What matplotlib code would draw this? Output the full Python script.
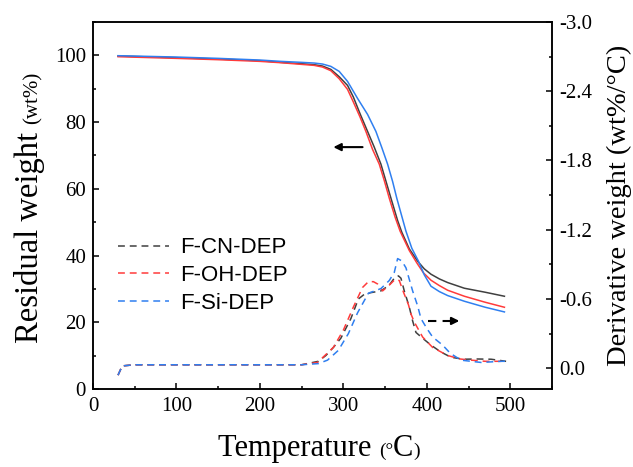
import numpy as np
import matplotlib
matplotlib.use("Agg")
import matplotlib.pyplot as plt
from matplotlib.ticker import MultipleLocator, FuncFormatter

plt.rcParams["axes.unicode_minus"] = False

# TGA (residual weight, %)
t_cn = [30, 100, 150, 200, 225, 250, 265, 275, 285, 295, 305, 312, 320, 329, 337, 345, 351, 357,
        365, 370, 379, 389, 397, 405, 415, 425, 445, 470, 493]
w_cn = [99.8, 99.3, 98.9, 98.4, 97.9, 97.5, 97.2, 96.8, 95.8, 93.6, 91.0, 87.5, 82.5, 77.2, 72.5,
        67.4, 62.3, 57.2, 50.5, 47.0, 42.0, 38.3, 36.0, 34.4, 33.0, 31.9, 30.2, 29.0, 27.8]

t_oh = [30, 100, 150, 200, 225, 250, 265, 275, 285, 295, 305, 312, 320, 327, 335, 343, 349, 355,
        362, 368, 379, 388, 396, 405, 415, 425, 445, 470, 493]
w_oh = [99.6, 99.1, 98.7, 98.2, 97.8, 97.3, 97.0, 96.5, 95.4, 93.0, 89.8, 86.0, 81.5, 77.2, 71.8,
        67.4, 62.5, 57.2, 51.5, 47.3, 41.5, 37.8, 34.8, 32.6, 31.0, 29.6, 27.8, 26.0, 24.5]

t_si = [30, 100, 150, 200, 225, 250, 265, 275, 285, 295, 305, 317, 329, 339, 346, 353, 359, 364,
        370, 375, 382, 390, 397, 405, 415, 425, 445, 470, 493]
w_si = [99.9, 99.5, 99.1, 98.6, 98.2, 97.9, 97.7, 97.4, 96.7, 95.2, 92.2, 87.1, 82.3, 77.2, 72.4,
        67.4, 62.2, 57.2, 51.8, 47.3, 42.2, 38.3, 34.2, 30.8, 29.2, 28.0, 26.3, 24.5, 23.1]

# DTG (derivative weight, wt%/C)
dt_cn = [30, 35, 50, 100, 150, 200, 250, 270, 279, 288, 297, 309, 318, 325, 333, 345, 355, 362,
         366, 369, 373, 379, 383, 387, 395, 405, 417, 429, 444, 460, 477, 495]
d_cn = [0.06, -0.02, -0.03, -0.03, -0.03, -0.03, -0.03, -0.06, -0.11, -0.18, -0.26, -0.43, -0.60,
        -0.64, -0.655, -0.67, -0.72, -0.79, -0.80, -0.78, -0.67, -0.53, -0.41, -0.31, -0.26, -0.20,
        -0.14, -0.095, -0.078, -0.08, -0.078, -0.06]

dt_oh = [30, 35, 50, 100, 150, 200, 250, 269, 288, 300, 312, 323, 330, 336, 341, 347, 355, 362,
         367, 372, 378, 381, 385, 395, 407, 425, 440, 453, 470, 489, 495]
d_oh = [0.06, -0.02, -0.03, -0.03, -0.03, -0.03, -0.03, -0.05, -0.18, -0.33, -0.53, -0.70, -0.75,
        -0.75, -0.73, -0.67, -0.72, -0.77, -0.76, -0.66, -0.55, -0.47, -0.40, -0.27, -0.18, -0.11,
        -0.08, -0.07, -0.06, -0.06, -0.06]

dt_si = [30, 35, 50, 100, 150, 200, 250, 270, 281, 294, 306, 317, 330, 345, 355, 361, 365, 370,
         375, 383, 389, 393, 400, 407, 419, 428, 441, 465, 489, 495]
d_si = [0.06, -0.02, -0.03, -0.03, -0.03, -0.03, -0.03, -0.04, -0.07, -0.155, -0.30, -0.48, -0.65,
        -0.69, -0.76, -0.83, -0.95, -0.93, -0.87, -0.67, -0.54, -0.43, -0.345, -0.27, -0.20, -0.13,
        -0.07, -0.05, -0.06, -0.06]

labels = ["F-CN-DEP", "F-OH-DEP", "F-Si-DEP"]
colors = ["#404040", "#ff3b3b", "#2f7ff0"]

# arrows: (x_start, x_end, y) on the weight axis
arrow_left = [323, 288, 72.5]
arrow_right = [402, 439, 20.4]

serif = "Liberation Serif"

fig = plt.figure(figsize=(6.33, 4.67), dpi=100)
ax = fig.add_axes([93 / 633, 78 / 467, 459 / 633, 367 / 467])
ax2 = ax.twinx()

for t, w, c in zip([t_cn, t_oh, t_si], [w_cn, w_oh, w_si], colors):
    ax.plot(t, w, color=c, lw=1.1)

handles = []
for t, d, c, lab in zip([dt_cn, dt_oh, dt_si], [d_cn, d_oh, d_si], colors, labels):
    h, = ax2.plot(t, d, color=c, lw=1.1, ls=(0, (4.5, 3.2)), label=lab)
    handles.append(h)

ax.set_xlim(0, 550)
ax.set_ylim(0, 110)
ax2.set_ylim(0.18, -3.0)

ax.xaxis.set_major_locator(MultipleLocator(100))
ax.xaxis.set_minor_locator(MultipleLocator(50))
ax.yaxis.set_major_locator(MultipleLocator(20))
ax.yaxis.set_minor_locator(MultipleLocator(10))
ax2.yaxis.set_major_locator(MultipleLocator(0.6))
ax2.yaxis.set_minor_locator(MultipleLocator(0.3))
ax2.yaxis.set_major_formatter(FuncFormatter(lambda v, p: "%.1f" % (0.0 if abs(v) < 1e-9 else v)))

for a in (ax, ax2):
    a.tick_params(which="both", direction="in", width=1.1, labelsize=15)
    a.tick_params(which="major", length=4.5)
    a.tick_params(which="minor", length=2.5)
    for s in a.spines.values():
        s.set_linewidth(1.1)
    for lbl in a.get_xticklabels() + a.get_yticklabels():
        lbl.set_fontfamily(serif)
ax.tick_params(axis="y", pad=5)
ax.tick_params(axis="x", pad=6)
ax2.tick_params(axis="y", pad=5)

# arrows
ax.annotate("", xy=(arrow_left[1], arrow_left[2]), xytext=(arrow_left[0], arrow_left[2]),
            arrowprops=dict(arrowstyle="-|>", color="black", lw=1.5, mutation_scale=11,
                            shrinkA=0, shrinkB=0))
ax.plot([arrow_right[0], arrow_right[1] - 6], [arrow_right[2]] * 2, color="black", lw=1.5,
        ls=(0, (4, 3)))
ax.annotate("", xy=(arrow_right[1], arrow_right[2]), xytext=(arrow_right[1] - 7, arrow_right[2]),
            arrowprops=dict(arrowstyle="-|>", color="black", lw=1.5, mutation_scale=11,
                            shrinkA=0, shrinkB=0))

leg = ax2.legend(handles=handles, loc="upper left", bbox_to_anchor=(0.055, 0.413), frameon=False,
                 prop={"family": "Liberation Sans", "size": 16}, handlelength=2.3,
                 handletextpad=0.5, labelspacing=0.3, borderpad=0, borderaxespad=0)

# axis labels
t1 = ax.text(-0.120, 0.125, "Residual weight ", transform=ax.transAxes, rotation=90,
             rotation_mode="anchor", ha="left", va="baseline", fontsize=23.5, family=serif)
ax.annotate("(wt%)", xy=(-0.120, 1.0), xycoords=(ax.transAxes, t1), rotation=90,
            rotation_mode="anchor", ha="left", va="baseline", fontsize=15, family=serif)

t2 = ax.text(0.272, -0.183, "Temperature ", transform=ax.transAxes, ha="left", va="baseline",
             fontsize=22, family=serif)
t3 = ax.annotate("(\u00b0", xy=(1.0, -0.183), xycoords=(t2, ax.transAxes), ha="left",
                 va="baseline", fontsize=14, family=serif)
t4 = ax.annotate("C", xy=(1.0, -0.183), xycoords=(t3, ax.transAxes), ha="left",
                 va="baseline", fontsize=22, family=serif)
ax.annotate(")", xy=(1.0, -0.183), xycoords=(t4, ax.transAxes), ha="left",
            va="baseline", fontsize=14, family=serif)

ax2.text(1.146, 0.5, "Derivative weight (wt%/\u00b0C)", transform=ax2.transAxes, rotation=90,
         ha="center", va="center", fontsize=20.5, family=serif)

fig.savefig("out.png", dpi=100)
